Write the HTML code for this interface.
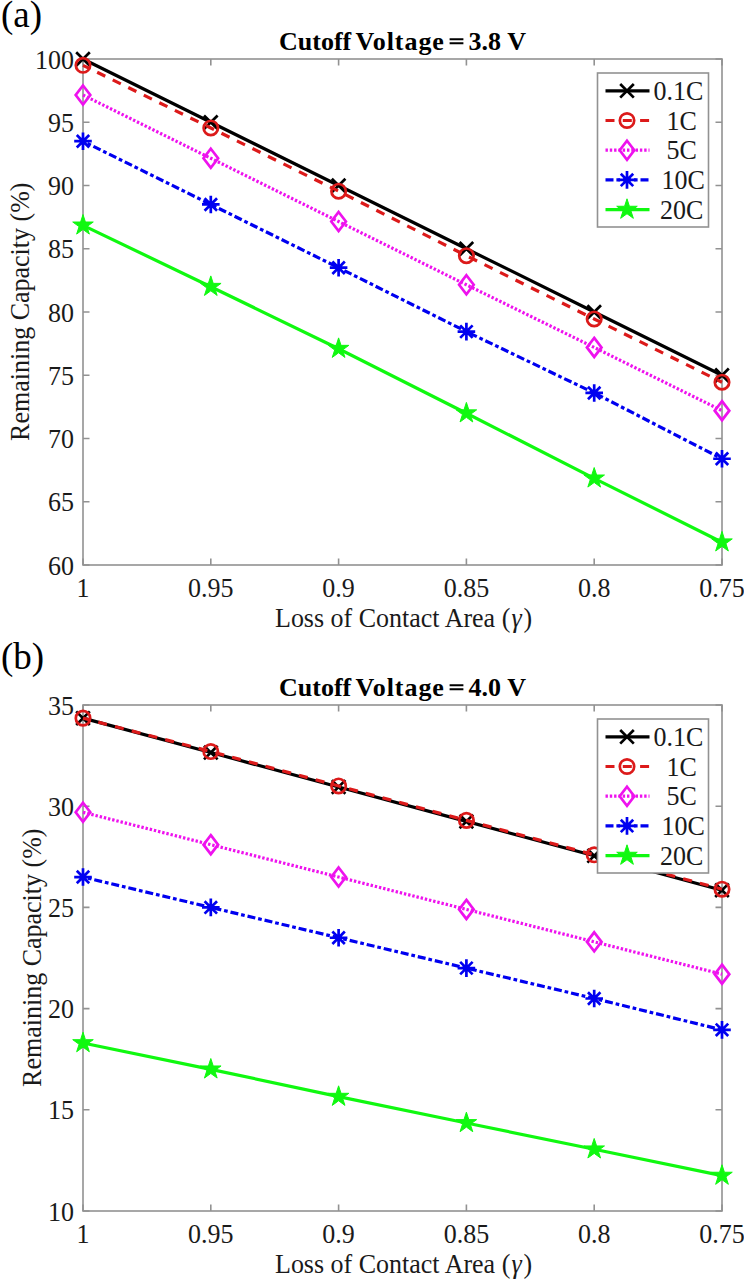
<!DOCTYPE html>
<html><head><meta charset="utf-8"><style>
html,body{margin:0;padding:0;background:#fff;}
body{width:744px;height:1280px;overflow:hidden;}
svg{display:block;}
text{font-family:"Liberation Serif", serif;fill:#1a1a1a;}
.tl{font-size:26px;}
.al{font-size:26px;}
.ti{font-size:26px;font-weight:bold;fill:#000;}
.pn{font-size:37px;fill:#000;}
</style></head><body>
<svg width="744" height="1280" viewBox="0 0 744 1280">
<rect width="744" height="1280" fill="#fff"/>
<rect x="83" y="59" width="639" height="506" fill="#fff" stroke="#929292" stroke-width="1.6"/>
<path d="M83 565v-6.5M83 59v6.5M210.8 565v-6.5M210.8 59v6.5M338.6 565v-6.5M338.6 59v6.5M466.4 565v-6.5M466.4 59v6.5M594.2 565v-6.5M594.2 59v6.5M722 565v-6.5M722 59v6.5M83 565h6.5M722 565h-6.5M83 501.75h6.5M722 501.75h-6.5M83 438.5h6.5M722 438.5h-6.5M83 375.25h6.5M722 375.25h-6.5M83 312h6.5M722 312h-6.5M83 248.75h6.5M722 248.75h-6.5M83 185.5h6.5M722 185.5h-6.5M83 122.25h6.5M722 122.25h-6.5M83 59h6.5M722 59h-6.5" stroke="#929292" stroke-width="1.6" fill="none"/>
<polyline points="83,59 210.8,122.25 338.6,185.5 466.4,248.75 594.2,312 722,375.25" stroke="#000000" stroke-width="3.2" fill="none"/>
<path d="M76.2 52.2L89.8 65.8M76.2 65.8L89.8 52.2" stroke="#000000" stroke-width="2.7" fill="none"/>
<path d="M204 115.45L217.6 129.05M204 129.05L217.6 115.45" stroke="#000000" stroke-width="2.7" fill="none"/>
<path d="M331.8 178.7L345.4 192.3M331.8 192.3L345.4 178.7" stroke="#000000" stroke-width="2.7" fill="none"/>
<path d="M459.6 241.95L473.2 255.55M459.6 255.55L473.2 241.95" stroke="#000000" stroke-width="2.7" fill="none"/>
<path d="M587.4 305.2L601 318.8M587.4 318.8L601 305.2" stroke="#000000" stroke-width="2.7" fill="none"/>
<path d="M715.2 368.45L728.8 382.05M715.2 382.05L728.8 368.45" stroke="#000000" stroke-width="2.7" fill="none"/>
<polyline points="83,65.32 210.8,127.94 338.6,191.19 466.4,255.71 594.2,318.96 722,382.21" stroke="#dc1a1a" stroke-width="3.2" fill="none" stroke-dasharray="9 8.3" stroke-dashoffset="1.5"/>
<circle cx="83" cy="65.32" r="7.2" stroke="#dc1a1a" stroke-width="2.7" fill="none"/>
<circle cx="210.8" cy="127.94" r="7.2" stroke="#dc1a1a" stroke-width="2.7" fill="none"/>
<circle cx="338.6" cy="191.19" r="7.2" stroke="#dc1a1a" stroke-width="2.7" fill="none"/>
<circle cx="466.4" cy="255.71" r="7.2" stroke="#dc1a1a" stroke-width="2.7" fill="none"/>
<circle cx="594.2" cy="318.96" r="7.2" stroke="#dc1a1a" stroke-width="2.7" fill="none"/>
<circle cx="722" cy="382.21" r="7.2" stroke="#dc1a1a" stroke-width="2.7" fill="none"/>
<polyline points="83,95.05 210.8,158.3 338.6,221.55 466.4,284.8 594.2,347.42 722,410.67" stroke="#ee12ee" stroke-width="3.2" fill="none" stroke-dasharray="2.4 1.9"/>
<path d="M83 85.55L90.3 95.05L83 104.55L75.7 95.05Z" stroke="#ee12ee" stroke-width="2.7" fill="none" stroke-linejoin="miter"/>
<path d="M210.8 148.8L218.1 158.3L210.8 167.8L203.5 158.3Z" stroke="#ee12ee" stroke-width="2.7" fill="none" stroke-linejoin="miter"/>
<path d="M338.6 212.05L345.9 221.55L338.6 231.05L331.3 221.55Z" stroke="#ee12ee" stroke-width="2.7" fill="none" stroke-linejoin="miter"/>
<path d="M466.4 275.3L473.7 284.8L466.4 294.3L459.1 284.8Z" stroke="#ee12ee" stroke-width="2.7" fill="none" stroke-linejoin="miter"/>
<path d="M594.2 337.92L601.5 347.42L594.2 356.92L586.9 347.42Z" stroke="#ee12ee" stroke-width="2.7" fill="none" stroke-linejoin="miter"/>
<path d="M722 401.17L729.3 410.67L722 420.17L714.7 410.67Z" stroke="#ee12ee" stroke-width="2.7" fill="none" stroke-linejoin="miter"/>
<polyline points="83,141.22 210.8,204.47 338.6,267.72 466.4,331.61 594.2,392.96 722,458.74" stroke="#0000f0" stroke-width="3.2" fill="none" stroke-dasharray="8 2.9 3.7 2.9" stroke-dashoffset="5.9"/>
<path d="M74.2 141.22L91.8 141.22M83 132.42L83 150.02M76.78 135L89.22 147.45M76.78 147.45L89.22 135" stroke="#0000f0" stroke-width="2.7" fill="none"/>
<path d="M202 204.47L219.6 204.47M210.8 195.67L210.8 213.27M204.58 198.25L217.02 210.7M204.58 210.7L217.02 198.25" stroke="#0000f0" stroke-width="2.7" fill="none"/>
<path d="M329.8 267.72L347.4 267.72M338.6 258.92L338.6 276.52M332.38 261.5L344.82 273.95M332.38 273.95L344.82 261.5" stroke="#0000f0" stroke-width="2.7" fill="none"/>
<path d="M457.6 331.61L475.2 331.61M466.4 322.81L466.4 340.41M460.18 325.39L472.62 337.83M460.18 337.83L472.62 325.39" stroke="#0000f0" stroke-width="2.7" fill="none"/>
<path d="M585.4 392.96L603 392.96M594.2 384.16L594.2 401.76M587.98 386.74L600.42 399.18M587.98 399.18L600.42 386.74" stroke="#0000f0" stroke-width="2.7" fill="none"/>
<path d="M713.2 458.74L730.8 458.74M722 449.94L722 467.54M715.78 452.52L728.22 464.96M715.78 464.96L728.22 452.52" stroke="#0000f0" stroke-width="2.7" fill="none"/>
<polyline points="83,225.35 210.8,286.7 338.6,348.69 466.4,413.2 594.2,478.35 722,542.23" stroke="#10f810" stroke-width="3.2" fill="none"/>
<path d="M83 214.55L85.42 222.01L93.27 222.01L86.92 226.62L89.35 234.08L83 229.47L76.65 234.08L79.08 226.62L72.73 222.01L80.58 222.01Z" fill="#10f810" stroke="#10f810" stroke-width="1" stroke-linejoin="miter"/>
<path d="M210.8 275.9L213.22 283.36L221.07 283.36L214.72 287.97L217.15 295.44L210.8 290.83L204.45 295.44L206.88 287.97L200.53 283.36L208.38 283.36Z" fill="#10f810" stroke="#10f810" stroke-width="1" stroke-linejoin="miter"/>
<path d="M338.6 337.89L341.02 345.35L348.87 345.35L342.52 349.96L344.95 357.42L338.6 352.81L332.25 357.42L334.68 349.96L328.33 345.35L336.18 345.35Z" fill="#10f810" stroke="#10f810" stroke-width="1" stroke-linejoin="miter"/>
<path d="M466.4 402.4L468.82 409.86L476.67 409.86L470.32 414.47L472.75 421.94L466.4 417.33L460.05 421.94L462.48 414.47L456.13 409.86L463.98 409.86Z" fill="#10f810" stroke="#10f810" stroke-width="1" stroke-linejoin="miter"/>
<path d="M594.2 467.55L596.62 475.01L604.47 475.01L598.12 479.62L600.55 487.08L594.2 482.47L587.85 487.08L590.28 479.62L583.93 475.01L591.78 475.01Z" fill="#10f810" stroke="#10f810" stroke-width="1" stroke-linejoin="miter"/>
<path d="M722 531.43L724.42 538.89L732.27 538.89L725.92 543.5L728.35 550.97L722 546.36L715.65 550.97L718.08 543.5L711.73 538.89L719.58 538.89Z" fill="#10f810" stroke="#10f810" stroke-width="1" stroke-linejoin="miter"/>
<text transform="translate(74 574.6) scale(1.0 1.06)" text-anchor="end" class="tl">60</text>
<text transform="translate(74 511.35) scale(1.0 1.06)" text-anchor="end" class="tl">65</text>
<text transform="translate(74 448.1) scale(1.0 1.06)" text-anchor="end" class="tl">70</text>
<text transform="translate(74 384.85) scale(1.0 1.06)" text-anchor="end" class="tl">75</text>
<text transform="translate(74 321.6) scale(1.0 1.06)" text-anchor="end" class="tl">80</text>
<text transform="translate(74 258.35) scale(1.0 1.06)" text-anchor="end" class="tl">85</text>
<text transform="translate(74 195.1) scale(1.0 1.06)" text-anchor="end" class="tl">90</text>
<text transform="translate(74 131.85) scale(1.0 1.06)" text-anchor="end" class="tl">95</text>
<text transform="translate(74 68.6) scale(1.0 1.06)" text-anchor="end" class="tl">100</text>
<text transform="translate(83 596.5) scale(1.0 1.06)" text-anchor="middle" class="tl">1</text>
<text transform="translate(210.8 596.5) scale(1.0 1.06)" text-anchor="middle" class="tl">0.95</text>
<text transform="translate(338.6 596.5) scale(1.0 1.06)" text-anchor="middle" class="tl">0.9</text>
<text transform="translate(466.4 596.5) scale(1.0 1.06)" text-anchor="middle" class="tl">0.85</text>
<text transform="translate(594.2 596.5) scale(1.0 1.06)" text-anchor="middle" class="tl">0.8</text>
<text transform="translate(722 596.5) scale(1.0 1.06)" text-anchor="middle" class="tl">0.75</text>
<text transform="translate(275 627.2) scale(1.0 1.06)" text-anchor="start" class="al">Loss of Contact Area (<tspan font-style="italic" dx="1.2">γ</tspan><tspan dx="1.8">)</tspan></text>
<text transform="translate(28.5 311.7) rotate(-90) scale(1.0 1.06)" text-anchor="middle" class="al">Remaining Capacity (%)</text>
<text y="49.5" class="ti"><tspan x="279">Cutoff</tspan><tspan x="355.4" letter-spacing="0.95">Voltage</tspan><tspan x="468.6">3.8</tspan><tspan x="507.2">V</tspan></text>
<path d="M449.6 39.3H463.4M449.6 43.2H463.4" stroke="#000" stroke-width="1.9"/>
<text transform="translate(1 27.4) scale(1 1)" text-anchor="start" class="pn">(a)</text>
<rect x="597.5" y="73" width="111.0" height="154" fill="#fff" stroke="#929292" stroke-width="1.6"/>
<line x1="605.5" y1="90.8" x2="649.5" y2="90.8" stroke="#000000" stroke-width="3.2"/>
<path d="M620.2 84L633.8 97.6M620.2 97.6L633.8 84" stroke="#000000" stroke-width="2.7" fill="none"/>
<text transform="translate(653.5 99.8) scale(1.0 1.06)" text-anchor="start" class="tl">0.1C</text>
<line x1="605.5" y1="120.5" x2="649.5" y2="120.5" stroke="#dc1a1a" stroke-width="3.2" stroke-dasharray="9 8.3"/>
<circle cx="627" cy="120.5" r="7.2" stroke="#dc1a1a" stroke-width="2.7" fill="none"/>
<text transform="translate(666.5 129.5) scale(1.0 1.06)" text-anchor="start" class="tl">1C</text>
<line x1="605.5" y1="150.2" x2="649.5" y2="150.2" stroke="#ee12ee" stroke-width="3.2" stroke-dasharray="2.4 1.9"/>
<path d="M627 140.7L634.3 150.2L627 159.7L619.7 150.2Z" stroke="#ee12ee" stroke-width="2.7" fill="none" stroke-linejoin="miter"/>
<text transform="translate(666.5 159.2) scale(1.0 1.06)" text-anchor="start" class="tl">5C</text>
<line x1="605.5" y1="179.9" x2="649.5" y2="179.9" stroke="#0000f0" stroke-width="3.2" stroke-dasharray="8 2.9 3.7 2.9"/>
<path d="M618.2 179.9L635.8 179.9M627 171.1L627 188.7M620.78 173.68L633.22 186.12M620.78 186.12L633.22 173.68" stroke="#0000f0" stroke-width="2.7" fill="none"/>
<text transform="translate(661.5 188.9) scale(1.0 1.06)" text-anchor="start" class="tl">10C</text>
<line x1="605.5" y1="209.6" x2="649.5" y2="209.6" stroke="#10f810" stroke-width="3.2"/>
<path d="M627 198.8L629.42 206.26L637.27 206.26L630.92 210.87L633.35 218.34L627 213.73L620.65 218.34L623.08 210.87L616.73 206.26L624.58 206.26Z" fill="#10f810" stroke="#10f810" stroke-width="1" stroke-linejoin="miter"/>
<text transform="translate(660 218.6) scale(1.0 1.06)" text-anchor="start" class="tl">20C</text>
<rect x="83" y="705" width="639" height="506" fill="#fff" stroke="#929292" stroke-width="1.6"/>
<path d="M83 1211v-6.5M83 705v6.5M210.8 1211v-6.5M210.8 705v6.5M338.6 1211v-6.5M338.6 705v6.5M466.4 1211v-6.5M466.4 705v6.5M594.2 1211v-6.5M594.2 705v6.5M722 1211v-6.5M722 705v6.5M83 1211h6.5M722 1211h-6.5M83 1109.8h6.5M722 1109.8h-6.5M83 1008.6h6.5M722 1008.6h-6.5M83 907.4h6.5M722 907.4h-6.5M83 806.2h6.5M722 806.2h-6.5M83 705h6.5M722 705h-6.5" stroke="#929292" stroke-width="1.6" fill="none"/>
<polyline points="83,718.16 210.8,752.56 338.6,786.97 466.4,821.38 594.2,855.79 722,890.2" stroke="#000000" stroke-width="3.2" fill="none"/>
<path d="M76.2 711.36L89.8 724.96M76.2 724.96L89.8 711.36" stroke="#000000" stroke-width="2.7" fill="none"/>
<path d="M204 745.76L217.6 759.36M204 759.36L217.6 745.76" stroke="#000000" stroke-width="2.7" fill="none"/>
<path d="M331.8 780.17L345.4 793.77M331.8 793.77L345.4 780.17" stroke="#000000" stroke-width="2.7" fill="none"/>
<path d="M459.6 814.58L473.2 828.18M459.6 828.18L473.2 814.58" stroke="#000000" stroke-width="2.7" fill="none"/>
<path d="M587.4 848.99L601 862.59M587.4 862.59L601 848.99" stroke="#000000" stroke-width="2.7" fill="none"/>
<path d="M715.2 883.4L728.8 897M715.2 897L728.8 883.4" stroke="#000000" stroke-width="2.7" fill="none"/>
<polyline points="83,718.16 210.8,751.55 338.6,785.96 466.4,820.37 594.2,854.78 722,889.18" stroke="#dc1a1a" stroke-width="3.2" fill="none" stroke-dasharray="9 8.3" stroke-dashoffset="1.5"/>
<circle cx="83" cy="718.16" r="7.2" stroke="#dc1a1a" stroke-width="2.7" fill="none"/>
<circle cx="210.8" cy="751.55" r="7.2" stroke="#dc1a1a" stroke-width="2.7" fill="none"/>
<circle cx="338.6" cy="785.96" r="7.2" stroke="#dc1a1a" stroke-width="2.7" fill="none"/>
<circle cx="466.4" cy="820.37" r="7.2" stroke="#dc1a1a" stroke-width="2.7" fill="none"/>
<circle cx="594.2" cy="854.78" r="7.2" stroke="#dc1a1a" stroke-width="2.7" fill="none"/>
<circle cx="722" cy="889.18" r="7.2" stroke="#dc1a1a" stroke-width="2.7" fill="none"/>
<polyline points="83,812.27 210.8,844.66 338.6,877.04 466.4,909.42 594.2,941.81 722,974.19" stroke="#ee12ee" stroke-width="3.2" fill="none" stroke-dasharray="2.4 1.9"/>
<path d="M83 802.77L90.3 812.27L83 821.77L75.7 812.27Z" stroke="#ee12ee" stroke-width="2.7" fill="none" stroke-linejoin="miter"/>
<path d="M210.8 835.16L218.1 844.66L210.8 854.16L203.5 844.66Z" stroke="#ee12ee" stroke-width="2.7" fill="none" stroke-linejoin="miter"/>
<path d="M338.6 867.54L345.9 877.04L338.6 886.54L331.3 877.04Z" stroke="#ee12ee" stroke-width="2.7" fill="none" stroke-linejoin="miter"/>
<path d="M466.4 899.92L473.7 909.42L466.4 918.92L459.1 909.42Z" stroke="#ee12ee" stroke-width="2.7" fill="none" stroke-linejoin="miter"/>
<path d="M594.2 932.31L601.5 941.81L594.2 951.31L586.9 941.81Z" stroke="#ee12ee" stroke-width="2.7" fill="none" stroke-linejoin="miter"/>
<path d="M722 964.69L729.3 974.19L722 983.69L714.7 974.19Z" stroke="#ee12ee" stroke-width="2.7" fill="none" stroke-linejoin="miter"/>
<polyline points="83,877.04 210.8,907.4 338.6,937.76 466.4,968.12 594.2,998.48 722,1029.85" stroke="#0000f0" stroke-width="3.2" fill="none" stroke-dasharray="8 2.9 3.7 2.9" stroke-dashoffset="5.9"/>
<path d="M74.2 877.04L91.8 877.04M83 868.24L83 885.84M76.78 870.82L89.22 883.26M76.78 883.26L89.22 870.82" stroke="#0000f0" stroke-width="2.7" fill="none"/>
<path d="M202 907.4L219.6 907.4M210.8 898.6L210.8 916.2M204.58 901.18L217.02 913.62M204.58 913.62L217.02 901.18" stroke="#0000f0" stroke-width="2.7" fill="none"/>
<path d="M329.8 937.76L347.4 937.76M338.6 928.96L338.6 946.56M332.38 931.54L344.82 943.98M332.38 943.98L344.82 931.54" stroke="#0000f0" stroke-width="2.7" fill="none"/>
<path d="M457.6 968.12L475.2 968.12M466.4 959.32L466.4 976.92M460.18 961.9L472.62 974.34M460.18 974.34L472.62 961.9" stroke="#0000f0" stroke-width="2.7" fill="none"/>
<path d="M585.4 998.48L603 998.48M594.2 989.68L594.2 1007.28M587.98 992.26L600.42 1004.7M587.98 1004.7L600.42 992.26" stroke="#0000f0" stroke-width="2.7" fill="none"/>
<path d="M713.2 1029.85L730.8 1029.85M722 1021.05L722 1038.65M715.78 1023.63L728.22 1036.07M715.78 1036.07L728.22 1023.63" stroke="#0000f0" stroke-width="2.7" fill="none"/>
<polyline points="83,1043.01 210.8,1069.32 338.6,1096.64 466.4,1122.96 594.2,1149.27 722,1175.58" stroke="#10f810" stroke-width="3.2" fill="none"/>
<path d="M83 1032.21L85.42 1039.67L93.27 1039.67L86.92 1044.28L89.35 1051.75L83 1047.13L76.65 1051.75L79.08 1044.28L72.73 1039.67L80.58 1039.67Z" fill="#10f810" stroke="#10f810" stroke-width="1" stroke-linejoin="miter"/>
<path d="M210.8 1058.52L213.22 1065.98L221.07 1065.98L214.72 1070.59L217.15 1078.06L210.8 1073.45L204.45 1078.06L206.88 1070.59L200.53 1065.98L208.38 1065.98Z" fill="#10f810" stroke="#10f810" stroke-width="1" stroke-linejoin="miter"/>
<path d="M338.6 1085.84L341.02 1093.31L348.87 1093.31L342.52 1097.92L344.95 1105.38L338.6 1100.77L332.25 1105.38L334.68 1097.92L328.33 1093.31L336.18 1093.31Z" fill="#10f810" stroke="#10f810" stroke-width="1" stroke-linejoin="miter"/>
<path d="M466.4 1112.16L468.82 1119.62L476.67 1119.62L470.32 1124.23L472.75 1131.69L466.4 1127.08L460.05 1131.69L462.48 1124.23L456.13 1119.62L463.98 1119.62Z" fill="#10f810" stroke="#10f810" stroke-width="1" stroke-linejoin="miter"/>
<path d="M594.2 1138.47L596.62 1145.93L604.47 1145.93L598.12 1150.54L600.55 1158.01L594.2 1153.39L587.85 1158.01L590.28 1150.54L583.93 1145.93L591.78 1145.93Z" fill="#10f810" stroke="#10f810" stroke-width="1" stroke-linejoin="miter"/>
<path d="M722 1164.78L724.42 1172.24L732.27 1172.24L725.92 1176.85L728.35 1184.32L722 1179.71L715.65 1184.32L718.08 1176.85L711.73 1172.24L719.58 1172.24Z" fill="#10f810" stroke="#10f810" stroke-width="1" stroke-linejoin="miter"/>
<text transform="translate(74 1220.6) scale(1.0 1.06)" text-anchor="end" class="tl">10</text>
<text transform="translate(74 1119.4) scale(1.0 1.06)" text-anchor="end" class="tl">15</text>
<text transform="translate(74 1018.2) scale(1.0 1.06)" text-anchor="end" class="tl">20</text>
<text transform="translate(74 917) scale(1.0 1.06)" text-anchor="end" class="tl">25</text>
<text transform="translate(74 815.8) scale(1.0 1.06)" text-anchor="end" class="tl">30</text>
<text transform="translate(74 714.6) scale(1.0 1.06)" text-anchor="end" class="tl">35</text>
<text transform="translate(83 1242.5) scale(1.0 1.06)" text-anchor="middle" class="tl">1</text>
<text transform="translate(210.8 1242.5) scale(1.0 1.06)" text-anchor="middle" class="tl">0.95</text>
<text transform="translate(338.6 1242.5) scale(1.0 1.06)" text-anchor="middle" class="tl">0.9</text>
<text transform="translate(466.4 1242.5) scale(1.0 1.06)" text-anchor="middle" class="tl">0.85</text>
<text transform="translate(594.2 1242.5) scale(1.0 1.06)" text-anchor="middle" class="tl">0.8</text>
<text transform="translate(722 1242.5) scale(1.0 1.06)" text-anchor="middle" class="tl">0.75</text>
<text transform="translate(275 1273.2) scale(1.0 1.06)" text-anchor="start" class="al">Loss of Contact Area (<tspan font-style="italic" dx="1.2">γ</tspan><tspan dx="1.8">)</tspan></text>
<text transform="translate(41 957.7) rotate(-90) scale(1.0 1.06)" text-anchor="middle" class="al">Remaining Capacity (%)</text>
<text y="695.5" class="ti"><tspan x="279">Cutoff</tspan><tspan x="355.4" letter-spacing="0.95">Voltage</tspan><tspan x="468.6">4.0</tspan><tspan x="507.2">V</tspan></text>
<path d="M449.6 685.3H463.4M449.6 689.2H463.4" stroke="#000" stroke-width="1.9"/>
<text transform="translate(1 668.5) scale(1 1)" text-anchor="start" class="pn">(b)</text>
<rect x="597.5" y="719" width="111.0" height="154" fill="#fff" stroke="#929292" stroke-width="1.6"/>
<line x1="605.5" y1="736.8" x2="649.5" y2="736.8" stroke="#000000" stroke-width="3.2"/>
<path d="M620.2 730L633.8 743.6M620.2 743.6L633.8 730" stroke="#000000" stroke-width="2.7" fill="none"/>
<text transform="translate(653.5 745.8) scale(1.0 1.06)" text-anchor="start" class="tl">0.1C</text>
<line x1="605.5" y1="766.5" x2="649.5" y2="766.5" stroke="#dc1a1a" stroke-width="3.2" stroke-dasharray="9 8.3"/>
<circle cx="627" cy="766.5" r="7.2" stroke="#dc1a1a" stroke-width="2.7" fill="none"/>
<text transform="translate(666.5 775.5) scale(1.0 1.06)" text-anchor="start" class="tl">1C</text>
<line x1="605.5" y1="796.2" x2="649.5" y2="796.2" stroke="#ee12ee" stroke-width="3.2" stroke-dasharray="2.4 1.9"/>
<path d="M627 786.7L634.3 796.2L627 805.7L619.7 796.2Z" stroke="#ee12ee" stroke-width="2.7" fill="none" stroke-linejoin="miter"/>
<text transform="translate(666.5 805.2) scale(1.0 1.06)" text-anchor="start" class="tl">5C</text>
<line x1="605.5" y1="825.9" x2="649.5" y2="825.9" stroke="#0000f0" stroke-width="3.2" stroke-dasharray="8 2.9 3.7 2.9"/>
<path d="M618.2 825.9L635.8 825.9M627 817.1L627 834.7M620.78 819.68L633.22 832.12M620.78 832.12L633.22 819.68" stroke="#0000f0" stroke-width="2.7" fill="none"/>
<text transform="translate(661.5 834.9) scale(1.0 1.06)" text-anchor="start" class="tl">10C</text>
<line x1="605.5" y1="855.6" x2="649.5" y2="855.6" stroke="#10f810" stroke-width="3.2"/>
<path d="M627 844.8L629.42 852.26L637.27 852.26L630.92 856.87L633.35 864.34L627 859.73L620.65 864.34L623.08 856.87L616.73 852.26L624.58 852.26Z" fill="#10f810" stroke="#10f810" stroke-width="1" stroke-linejoin="miter"/>
<text transform="translate(660 864.6) scale(1.0 1.06)" text-anchor="start" class="tl">20C</text>
</svg>
</body></html>
